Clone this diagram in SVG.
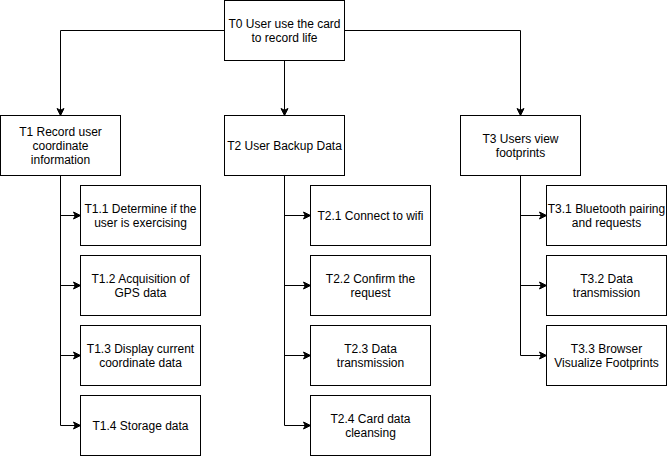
<svg xmlns="http://www.w3.org/2000/svg" width="668" height="456" viewBox="0 0 668 456">
<style>
.box{fill:#fff;stroke:#000;stroke-width:1}
.lbl{font-family:"Liberation Sans",Arial,Helvetica,sans-serif;font-size:12px;fill:#000;text-anchor:middle}
.edge{fill:none;stroke:#000;stroke-width:1;marker-end:url(#arr)}
</style>
<defs>
<marker id="arr" markerUnits="userSpaceOnUse" markerWidth="10" markerHeight="10" viewBox="-8 -5 10 10" refX="0" refY="0" orient="auto">
<path d="M0,0 L-7,-3.5 L-5.25,0 L-7,3.5 Z" fill="#000" stroke="#000" stroke-width="1"/>
</marker>
</defs>
<rect width="668" height="456" fill="#fff"/>
<g id="connectors">
<path class="edge" d="M224.5,30.5 H60.5 V115.5"/>
<path class="edge" d="M284.5,60.5 V115.5"/>
<path class="edge" d="M344.5,30.5 H520.5 V115.5"/>
<path class="edge" d="M60.5,175.5 V215.5 H80.5"/>
<path class="edge" d="M60.5,175.5 V285.5 H80.5"/>
<path class="edge" d="M60.5,175.5 V355.5 H80.5"/>
<path class="edge" d="M60.5,175.5 V425.5 H80.5"/>
<path class="edge" d="M284.5,175.5 V215.5 H310.5"/>
<path class="edge" d="M284.5,175.5 V285.5 H310.5"/>
<path class="edge" d="M284.5,175.5 V355.5 H310.5"/>
<path class="edge" d="M284.5,175.5 V425.5 H310.5"/>
<path class="edge" d="M520.5,175.5 V215.5 H546.5"/>
<path class="edge" d="M520.5,175.5 V285.5 H546.5"/>
<path class="edge" d="M520.5,175.5 V355.5 H546.5"/>
</g>
<g id="T0"><rect class="box" x="224.5" y="0.5" width="120" height="60"/><text class="lbl" x="284.5" y="28">T0 User use the card</text><text class="lbl" x="284.5" y="42">to record life</text></g>
<g id="T1"><rect class="box" x="0.5" y="115.5" width="120" height="60"/><text class="lbl" x="60.5" y="136">T1 Record user</text><text class="lbl" x="60.5" y="150">coordinate</text><text class="lbl" x="60.5" y="164">information</text></g>
<g id="T2"><rect class="box" x="224.5" y="115.5" width="120" height="60"/><text class="lbl" x="284.5" y="150">T2 User Backup Data</text></g>
<g id="T3"><rect class="box" x="460.5" y="115.5" width="120" height="60"/><text class="lbl" x="520.5" y="143">T3 Users view</text><text class="lbl" x="520.5" y="157">footprints</text></g>
<g id="T1.1"><rect class="box" x="80.5" y="185.5" width="120" height="60"/><text class="lbl" x="140.5" y="213">T1.1 Determine if the</text><text class="lbl" x="140.5" y="227">user is exercising</text></g>
<g id="T1.2"><rect class="box" x="80.5" y="255.5" width="120" height="60"/><text class="lbl" x="140.5" y="283">T1.2 Acquisition of</text><text class="lbl" x="140.5" y="297">GPS data</text></g>
<g id="T1.3"><rect class="box" x="80.5" y="325.5" width="120" height="60"/><text class="lbl" x="140.5" y="353">T1.3 Display current</text><text class="lbl" x="140.5" y="367">coordinate data</text></g>
<g id="T1.4"><rect class="box" x="80.5" y="395.5" width="120" height="60"/><text class="lbl" x="140.5" y="430">T1.4 Storage data</text></g>
<g id="T2.1"><rect class="box" x="310.5" y="185.5" width="120" height="60"/><text class="lbl" x="370.5" y="220">T2.1 Connect to wifi</text></g>
<g id="T2.2"><rect class="box" x="310.5" y="255.5" width="120" height="60"/><text class="lbl" x="370.5" y="283">T2.2 Confirm the</text><text class="lbl" x="370.5" y="297">request</text></g>
<g id="T2.3"><rect class="box" x="310.5" y="325.5" width="120" height="60"/><text class="lbl" x="370.5" y="353">T2.3 Data</text><text class="lbl" x="370.5" y="367">transmission</text></g>
<g id="T2.4"><rect class="box" x="310.5" y="395.5" width="120" height="60"/><text class="lbl" x="370.5" y="423">T2.4 Card data</text><text class="lbl" x="370.5" y="437">cleansing</text></g>
<g id="T3.1"><rect class="box" x="546.5" y="185.5" width="120" height="60"/><text class="lbl" x="606.5" y="213">T3.1 Bluetooth pairing</text><text class="lbl" x="606.5" y="227">and requests</text></g>
<g id="T3.2"><rect class="box" x="546.5" y="255.5" width="120" height="60"/><text class="lbl" x="606.5" y="283">T3.2 Data</text><text class="lbl" x="606.5" y="297">transmission</text></g>
<g id="T3.3"><rect class="box" x="546.5" y="325.5" width="120" height="60"/><text class="lbl" x="606.5" y="353">T3.3 Browser</text><text class="lbl" x="606.5" y="367">Visualize Footprints</text></g>
</svg>
